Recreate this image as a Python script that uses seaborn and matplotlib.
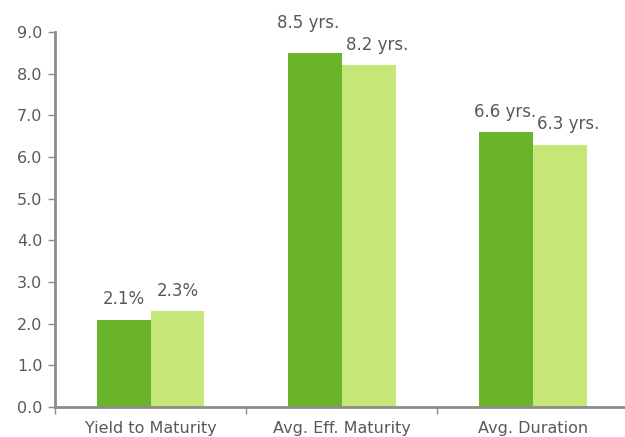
import pandas as pd
import seaborn as sns
import matplotlib.pyplot as plt

categories = ['Yield to Maturity', 'Avg. Eff. Maturity', 'Avg. Duration']
series_a = [2.1, 8.5, 6.6]
series_b = [2.3, 8.2, 6.3]
labels_a = ['2.1%', '8.5 yrs.', '6.6 yrs.']
labels_b = ['2.3%', '8.2 yrs.', '6.3 yrs.']

df = pd.DataFrame({
    'Category': categories * 2,
    'Value': series_a + series_b,
    'Series': ['A'] * 3 + ['B'] * 3,
})

sns.set_style('white')
plt.rcParams['font.family'] = ['DejaVu Sans']
text_col = '#595959'
axis_col = '#8c8c8c'

fig = plt.figure(figsize=(6.25, 4.37), dpi=100)
ax = fig.add_axes([0.088, 0.0686, 0.917, 0.858])

sns.barplot(data=df, x='Category', y='Value', hue='Series',
            palette=['#6ab42a', '#c5e777'], width=0.565, ax=ax,
            legend=False, saturation=1, linewidth=0)

# label offsets (points) so neighbouring labels don't collide
offsets_a = [(0, 11), (-5, 18), (0, 11)]
offsets_b = [(0, 11), (6.5, 11), (6.5, 11)]
for cont, labs, offs in zip(ax.containers, [labels_a, labels_b], [offsets_a, offsets_b]):
    for bar, lab, off in zip(cont, labs, offs):
        ax.annotate(lab, (bar.get_x() + bar.get_width() / 2, bar.get_height()),
                    xytext=off, textcoords='offset points', ha='center',
                    va='baseline', fontsize=12, color=text_col)

ax.set_ylim(0, 9)
ax.set_xlim(-0.5, 2.5)
ax.set_yticks([i for i in range(10)])
ax.set_yticklabels([f'{i:.1f}' for i in range(10)])
ax.set_xlabel('')
ax.set_ylabel('')

for s in ['top', 'right']:
    ax.spines[s].set_visible(False)
for s in ['left', 'bottom']:
    ax.spines[s].set_color(axis_col)
    ax.spines[s].set_linewidth(2)

ax.tick_params(axis='y', direction='out', length=5, width=1, color=axis_col,
               labelcolor=text_col, labelsize=11.5, pad=4, left=True)
ax.tick_params(axis='x', which='major', length=0, labelcolor=text_col,
               labelsize=11.5, pad=10)
ax.set_xticks([-0.5, 0.5, 1.5, 2.5], minor=True)
ax.tick_params(axis='x', which='minor', direction='out', length=5, width=1,
               color=axis_col, bottom=True)

plt.savefig('out.png', dpi=100)
